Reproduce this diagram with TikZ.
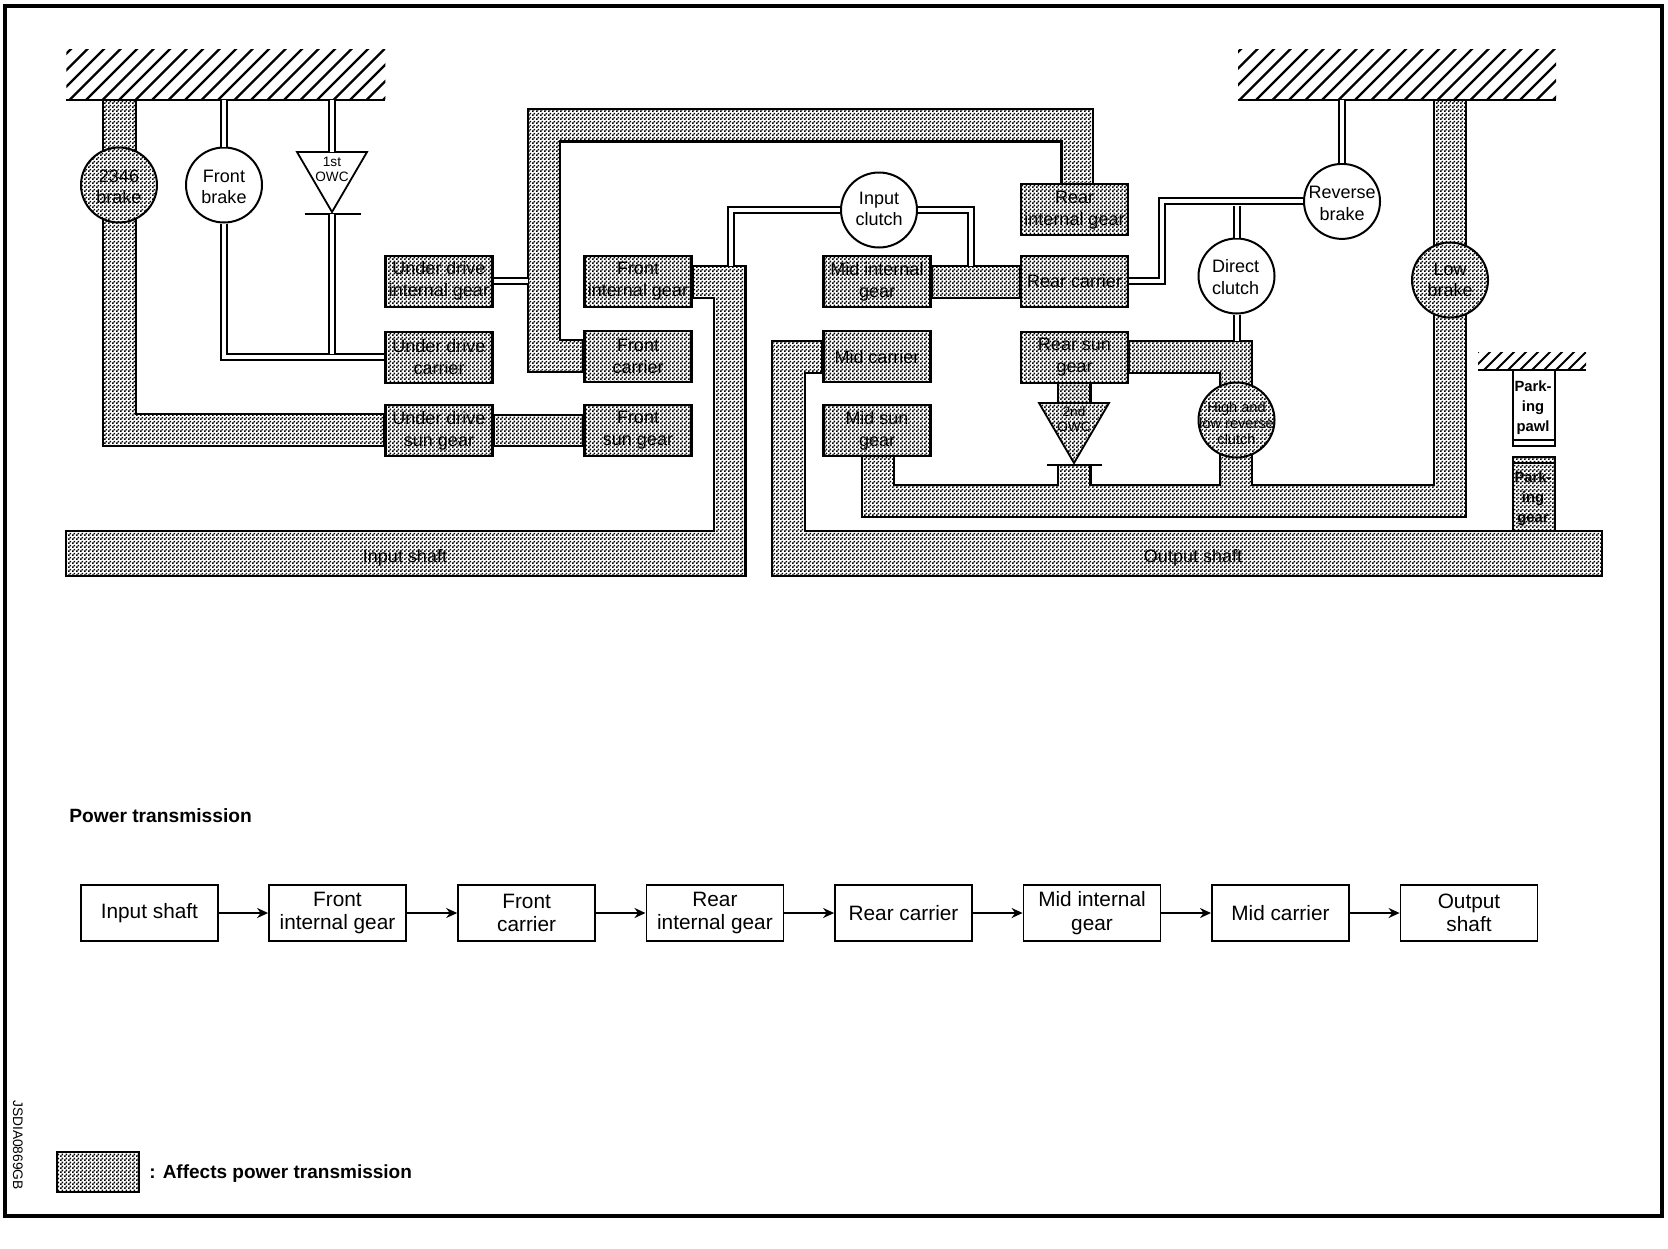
\documentclass[tikz,border=0pt]{standalone}
\usepackage{fontspec}
\setmainfont{Liberation Sans}
\usetikzlibrary{shapes.geometric,arrows.meta,backgrounds,patterns}
\pgfdeclarepatternformonly{dith}{\pgfqpoint{0pt}{0pt}}{\pgfqpoint{2pt}{2pt}}{\pgfqpoint{2pt}{2pt}}{
  \pgfpathrectangle{\pgfqpoint{0pt}{0pt}}{\pgfqpoint{1pt}{1pt}}
  \pgfpathrectangle{\pgfqpoint{1pt}{1pt}}{\pgfqpoint{1pt}{1pt}}
  \pgfusepath{fill}}
\tikzset{
  pat/.style={preaction={fill=white},pattern=dith,pattern color=black},
  band/.style={draw=black,pat,line width=1.1pt,line join=miter},
  gearbox/.style={draw=black,pat,line width=1.1pt,minimum width=53.5pt,minimum height=25.5pt,inner sep=0pt,align=center,font=\fontsize{9}{11.1}\selectfont},
  geartwo/.style={gearbox,execute at begin node={\rule{0pt}{8.6pt}}},
  brk/.style={draw=black,fill=white,ellipse,line width=1pt,minimum width=38pt,minimum height=37.5pt,inner sep=0pt},
  brkg/.style={brk,pat},
  etxt/.style={inner sep=0pt,align=center,font=\fontsize{9}{10.7}\selectfont},
  stxt/.style={inner sep=0pt,align=center,font=\fontsize{7.3}{8}\selectfont},
  otxt/.style={inner sep=0pt,align=center,font=\fontsize{6.8}{7.5}\selectfont},
  ptxt/.style={inner sep=0pt,align=center,font=\fontsize{7.4}{10}\selectfont\bfseries},
  dbl/.style={draw=black,double=white,double distance=2pt,line width=1pt,line join=miter},
  flowbox/.style={draw=black,fill=white,line width=.9pt,minimum width=68.5pt,minimum height=28pt,inner sep=0pt,align=center,font=\fontsize{10.4}{11.7}\selectfont},
  flowtwo/.style={flowbox,execute at begin node={\rule{0pt}{9.6pt}}},
  flowarrow/.style={draw=black,line width=1.4pt,-{Stealth[length=5.5pt,width=5pt]}},
  hatchline/.style={draw=black,line width=1.1pt},
  gndbox/.style={inner sep=0pt,outer sep=0pt,minimum height=25pt},
  gndline/.style={draw=black,line width=1.2pt},
  thinline/.style={draw=black,line width=.8pt},
}
\begin{document}
\begin{tikzpicture}[x=.5pt,y=-.5pt]
\useasboundingbox (0,0) rectangle (1668,1248);
\draw[line width=2pt] (5,6) rectangle (1662,1216);

% grounds
\node[gndbox,minimum width=159.5pt] (gndL) at (225.75,74.8) {};
\node[gndbox,minimum width=159pt] (gndR) at (1397,74.8) {};
\node[gndbox,minimum width=54pt,minimum height=8.6pt] (gndP) at (1532,361.3) {};
\begin{scope}
\clip (gndL.south west) rectangle (gndL.north east);
\foreach \k in {20,36.5,...,400} \draw[hatchline] (\k,100) -- ++(52,-52);
\end{scope}
\begin{scope}
\clip (gndR.south west) rectangle (gndR.north east);
\foreach \k in {1190,1206.5,...,1570} \draw[hatchline] (\k,100) -- ++(52,-52);
\end{scope}
\begin{scope}
\clip (gndP.south west) rectangle (gndP.north east);
\foreach \k in {1460,1472,...,1590} \draw[draw=black,line width=1pt] (\k,370) -- ++(19,-19);
\end{scope}
\draw[gndline] (gndL.south west) -- (gndL.south east);
\draw[gndline] (gndR.south west) -- (gndR.south east);
\draw[thinline] (gndP.south west) -- (gndP.south east);

% gear boxes
\node[geartwo] (udi) at (439,281.2) {Under drive\\internal gear};
\node[geartwo] (udc) at (439,357.1) {Under drive\\carrier};
\node[geartwo] (uds) at (439,430.5) {Under drive\\sun gear};
\node[geartwo] (fig) at (638,281.2) {Front\\internal gear};
\node[geartwo] (fca) at (638,356.6) {Front\\carrier};
\node[geartwo] (fsu) at (638,430.5) {Front\\sun gear};
\node[geartwo] (mig) at (877,281.6) {Mid internal\\gear};
\node[gearbox] (mca) at (877,356.6) {Mid carrier};
\node[geartwo] (msu) at (877,430.5) {Mid sun\\gear};
\node[geartwo] (rig) at (1074.5,209.8) {Rear\\internal gear};
\node[gearbox] (rca) at (1074.5,281.2) {Rear carrier};
\node[geartwo] (rsu) at (1074.5,357.1) {Rear sun\\gear};

% brakes and clutches
\node[brkg] (b23) at (119,185) {};
\node[etxt] (b23t) at (119,187) {2346\\brake};
\node[brk] (fbr) at (224,185) {};
\node[etxt] (fbrt) at (224,187) {Front\\brake};
\node[brk] (icl) at (879,210) {};
\node[etxt] (iclt) at (879,209) {Input\\clutch};
\node[brk] (rbr) at (1342,201.4) {};
\node[etxt] (rbrt) at (1342,203.4) {Reverse\\brake};
\node[brk] (dcl) at (1236.5,276) {};
\node[etxt] (dclt) at (1235.5,277) {Direct\\clutch};
\node[brkg] (lbr) at (1450,280) {};
\node[etxt] (lbrt) at (lbr) {Low\\brake};
\node[brkg] (hlr) at (1236.5,420) {};
\node[stxt] (hlrt) at (1236.5,423) {High and\\low reverse\\clutch};

% one-way clutches
\coordinate (o1t) at (332,152);
\coordinate (o1b) at (332,214);
\coordinate (o2t) at (1074,403);
\coordinate (o2b) at (1074,465);
\draw[draw=black,fill=white,line width=.9pt] (297,152) -- (367,152) -- (332,212) -- cycle;
\draw[draw=black,line width=1.1pt] (304.5,214) -- (361,214);
\draw[draw=black,pat,line width=.9pt] (1039,403) -- (1109,403) -- (1074,463) -- cycle;
\draw[draw=black,line width=1.1pt] (1047,465) -- (1101.7,465);
\node[otxt] (o1txt) at (332,169) {1st\\OWC};
\node[otxt] (o2txt) at (1074,419) {2nd\\OWC};

% parking
\node[draw=black,fill=white,line width=.8pt,minimum width=21pt,minimum height=38pt,inner sep=0pt] (paw) at (1534,408) {};
\node[ptxt] (pawt) at (1533,407.5) {Park-\\ing\\pawl};
\draw[thinline] (1513,440) -- (1555,440);
\node[draw=black,pat,line width=1pt,minimum width=21pt,minimum height=37.2pt,inner sep=0pt] (pgr) at (1534,493.8) {};
\node[ptxt] (pgrt) at (1533,499) {Park-\\ing\\gear};
\draw[draw=black,line width=1pt] (1513,462.7) -- (1555,462.7);

% shaded bands
\begin{pgfonlayer}{background}
\draw[band] (103,100) -- (136,100) -- (136,414) -- (uds.west |- 0,414) -- (uds.west |- 0,446) -- (103,446) -- cycle;
\draw[band] (uds.east |- 0,414.6) rectangle (fsu.west |- 0,446);
\draw[band] (fca.west |- 0,339.6) -- (560,339.6) -- (560,141.4) -- (1061.5,141.4) -- (1061.5,190) -- (1093,190) -- (1093,109.3) -- (528,109.3) -- (528,371.8) -- (fca.west |- 0,371.8) -- cycle;
\draw[band] (66,531) -- (714,531) -- (714,297.9) -- (fig.east |- 0,297.9) -- (fig.east |- 0,265.7) -- (745.5,265.7) -- (745.5,575.7) -- (66,575.7) -- cycle;
\draw[band] (mig.east |- 0,265.7) rectangle (rca.west |- 0,297.9);
\draw[band] (mca.west |- 0,340.7) -- (771.8,340.7) -- (771.8,575.7) -- (1602,575.7) -- (1602,531) -- (804.8,531) -- (804.8,372.9) -- (mca.west |- 0,372.9) -- cycle;
\draw[band] (862,445) -- (894,445) -- (894,484.6) -- (1058,484.6) -- (1058,465) -- (1090.5,465) -- (1090.5,484.6) -- (1220,484.6) -- (1220,440) -- (1252,440) -- (1252,484.6) -- (1434,484.6) -- (1434,100) -- (1466,100) -- (1466,516.8) -- (862,516.8) -- cycle;
\draw[band] (rsu.east |- 0,340.7) -- (1252,340.7) -- (1252,395) -- (1220,395) -- (1220,372.9) -- (rsu.east |- 0,372.9) -- cycle;
\draw[band] (1058,375) rectangle (1090.5,410);
\end{pgfonlayer}
\node[inner sep=0pt,font=\fontsize{9}{10.7}\selectfont] (ish) at (405,558) {Input shaft};
\node[inner sep=0pt,font=\fontsize{9}{10.7}\selectfont] (osh) at (1193,558) {Output shaft};

% double lines
\draw[dbl] (fbr.north) -- (fbr.north |- gndL.south);
\draw[dbl] (fbr.south) |- (udc.west);
\draw[dbl] (o1t) -- (o1t |- gndL.south);
\draw[dbl] (o1b) -- (332,354);
\draw[dbl] (udi.east) -- (528,281.2);
\draw[dbl] (icl.west) -| (730.7,265.7);
\draw[dbl] (icl.east) -| (971,265.7);
\draw[dbl] (rca.east) -- (1161.7,281.2) -- (1161.7,201.4) -- (rbr.west);
\draw[dbl] (rbr.north) -- (rbr.north |- gndR.south);
\draw[dbl] (dcl.north) -- (dcl.north |- 0,205.5);
\draw[dbl] (dcl.south) -- (dcl.south |- 0,340.7);

% power transmission
\node[inner sep=0pt,anchor=west,font=\fontsize{9.6}{11}\selectfont\bfseries] (ptl) at (69,816) {Power transmission};
\node[flowbox] (f1) at (149.4,913) {Input shaft};
\node[flowtwo] (f2) at (337.5,913) {Front\\internal gear};
\node[flowtwo] (f3) at (526.6,913) {Front\\carrier};
\node[flowtwo] (f4) at (714.9,913) {Rear\\internal gear};
\node[flowbox] (f5) at (903.5,913) {Rear carrier};
\node[flowtwo] (f6) at (1092,913) {Mid internal\\gear};
\node[flowbox] (f7) at (1280.4,913) {Mid carrier};
\node[flowtwo] (f8) at (1469,913) {Output\\shaft};
\foreach \a/\b in {f1/f2,f2/f3,f3/f4,f4/f5,f5/f6,f6/f7,f7/f8} \draw[flowarrow] (\a) -- (\b);

% legend
\node[draw=black,pat,line width=1pt,minimum width=41pt,minimum height=20pt,inner sep=0pt] (lgb) at (98,1172) {};
\node[inner sep=0pt,anchor=west,font=\fontsize{9.5}{11}\selectfont\bfseries] (lgt) at (149,1174) {: Affects power transmission};
\node[inner sep=0pt,rotate=-90,font=\fontsize{6.9}{8}\selectfont] (code) at (18,1145) {JSDIA0869GB};
\end{tikzpicture}
\end{document}
